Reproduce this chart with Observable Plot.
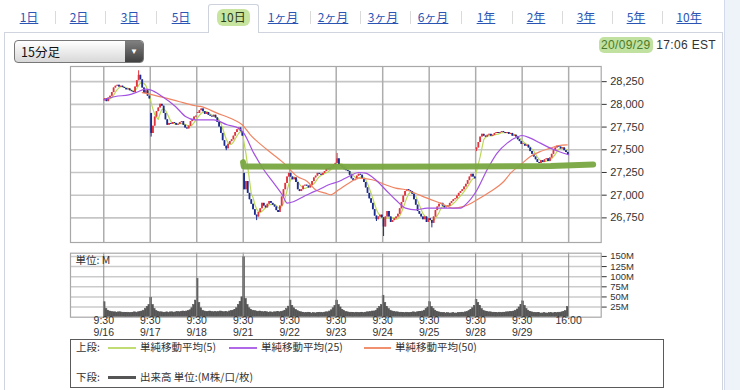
<!DOCTYPE html>
<html><head><meta charset="utf-8">
<script src="https://cdn.jsdelivr.net/npm/d3@7"></script>
<script src="https://cdn.jsdelivr.net/npm/@observablehq/plot@0.6"></script>
<style>
body{margin:0;width:740px;height:390px;overflow:hidden;position:relative;background:#fff;font-family:"Liberation Sans","Noto Sans CJK JP",sans-serif;}
.abs{position:absolute;}
.tab{position:absolute;top:9px;font-size:12px;color:#2a55b5;text-decoration:underline;transform:translateX(-50%);font-family:"Noto Sans CJK JP",sans-serif;line-height:15px;white-space:nowrap}
.sep{position:absolute;top:11px;width:1px;height:13px;background:#dadada}
.lg{position:absolute;font-size:10.5px;color:#333;font-family:"Noto Sans CJK JP",sans-serif;line-height:12px;white-space:nowrap}
.ll{position:absolute;height:2px}
</style></head>
<body>
<div class="abs" style="left:724px;top:0;width:16px;height:390px;background:#eef3fa;border-left:1px solid #d3dbea"></div>
<div class="abs" style="left:4px;top:32px;width:719px;height:370px;border:1px solid #cfd4df;box-sizing:border-box"></div>
<div id="tabs"></div>
<div class="abs" style="left:14px;top:40px;width:130px;height:23px;border:1px solid #777;border-radius:4px;box-sizing:border-box;background:linear-gradient(#ffffff,#d8d8d8);overflow:hidden">
  <div class="abs" style="left:6px;top:0;line-height:21px;font-size:12.5px;color:#111;font-family:'Noto Sans CJK JP',sans-serif">15分足</div>
  <div class="abs" style="right:0;top:0;width:18px;height:21px;background:linear-gradient(#808080,#404040);color:#fff;font-size:8px;line-height:21px;text-align:center">▼</div>
</div>
<div class="abs" style="left:599px;top:38px;font-size:12px;color:#333;letter-spacing:0.35px;white-space:nowrap"><span style="background:rgba(150,205,95,0.6);border-radius:5px;padding:1px 2px;color:#4d7a2a">20/09/29</span> 17:06 EST</div>
<div id="main" class="abs" style="left:60px;top:56px"></div>
<div id="vol" class="abs" style="left:60px;top:245px"></div>
<div class="abs" style="left:70px;top:339px;width:594px;height:49px;border:1.5px solid #5a5a5a;box-sizing:border-box"></div>
<div class="lg" style="left:76px;top:341px">上段:</div>
<div class="ll" style="left:108px;top:347px;width:28px;background:#c2dc74"></div>
<div class="lg" style="left:140px;top:341px">単純移動平均(5)</div>
<div class="ll" style="left:229px;top:347px;width:28px;background:#b068e8"></div>
<div class="lg" style="left:261px;top:341px">単純移動平均(25)</div>
<div class="ll" style="left:364px;top:347px;width:27px;background:#f0906e"></div>
<div class="lg" style="left:395px;top:341px">単純移動平均(50)</div>
<div class="lg" style="left:76px;top:371px">下段:</div>
<div class="ll" style="left:108px;top:376px;width:28px;height:3px;background:#555"></div>
<div class="lg" style="left:140px;top:371px">出来高 単位:(M株/口/枚)</div>
<script>
// ---- tabs ----
const tabLabels = ["1日","2日","3日","5日","10日","1ヶ月","2ヶ月","3ヶ月","6ヶ月","1年","2年","3年","5年","10年"];
const tabCenters = [29,79,130,181,233,283,333,383,433,486,536,586,636,689];
const sepX = [55,105,156,310,360,410,461,512,562,612,662];
const selectedTab = 4;

// ---- price data (15-minute bars, 26 per session) ----
const days = ["9/16","9/17","9/18","9/21","9/22","9/23","9/24","9/25","9/28","9/29"];
const dayOpens = [28040, 27900, 27900, 27240, 27240, 27350, 26750, 26740, 27500, 27560];
const close0916 = [28060,28030,28070,28090,28130,28180,28200,28210,28190,28200,28185,28175,28160,28170,28150,28140,28130,28190,28260,28320,28270,28180,28120,28150,28090,28060];
const close0917 = [27680,27760,27860,27920,27960,28000,27980,27900,27830,27770,27790,27780,27800,27790,27770,27780,27800,27810,27770,27740,27730,27760,27810,27830,27860,27870];
const close0918 = [27900,27930,27950,27920,27890,27910,27880,27870,27860,27880,27850,27800,27750,27680,27600,27540,27510,27560,27590,27610,27650,27690,27720,27740,27700,27650];
const close0921 = [27060,27150,27020,26950,26900,26840,26780,26760,26810,26850,26910,26880,26860,26900,26930,26910,26890,26870,26830,26810,26880,26980,27060,27130,27200,27240];
const close0922 = [27200,27170,27190,27140,27060,27040,27060,27100,27110,27100,27080,27110,27150,27190,27210,27240,27230,27220,27240,27260,27290,27280,27300,27310,27330,27350];
const close0923 = [27400,27330,27320,27300,27280,27270,27260,27220,27180,27160,27170,27210,27230,27220,27180,27140,27080,27020,26960,26910,26840,26770,26730,26760,26780,26750];
const close0924 = [26650,26760,26820,26760,26700,26720,26740,26760,26790,26850,26920,26990,27040,27060,27050,27040,27010,26950,26890,26820,26790,26760,26730,26760,26700,26740];
const close0925 = [26720,26690,26760,26830,26870,26900,26910,26880,26860,26870,26880,26910,26930,26950,26960,26990,27020,27040,27060,27090,27120,27160,27200,27230,27200,27180];
const close0928 = [27520,27580,27640,27670,27650,27640,27660,27670,27650,27660,27680,27690,27680,27690,27700,27690,27680,27690,27670,27680,27650,27660,27640,27610,27590,27560];
const close0929 = [27560,27540,27550,27520,27480,27450,27420,27390,27360,27350,27380,27360,27390,27400,27370,27410,27450,27490,27520,27540,27530,27510,27520,27490,27470,27440];
// visible wick extremes (bar index, price)
const spikeBars   = [19, 26, 68, 85, 130, 152, 156, 183, 208];
const spikeValues = [28370, 27640, 27490, 26720, 27460, 26710, 26545, 26640, 27480];

// ---- moving averages (bar position, price) ----
const ma25T = [0,6.5,14,19.6,23.3,26.1,32.7,40.1,45.7,51.3,61.5,69,75.5,78.3,83.9,89.5,95.1,99.8,102.6,106.3,111.9,115.6,120.2,125.8,131.4,137,142.6,146.4,152,157.6,163.2,168.8,174.4,180.9,190.2,199.5,203.2,208.8,214.4,220,225.6,231.2,234,238.6,244.2,249.8,254.5,260];
const ma25V = [28050,28087,28105,28142,28167,28160,28087,27977,27867,27830,27830,27775,27738,27683,27463,27280,27132,27005,26912,26930,26986,27022,27060,27115,27151,27206,27250,27242,27170,27060,26950,26857,26839,26857,26857,26857,26912,27060,27280,27463,27573,27640,27657,27628,27573,27518,27481,27445];
const ma50T = [21.5,32.7,41.9,51.3,54.1,63.4,72.7,77.4,82,91.4,100.7,108.2,113.8,118.4,124,126.8,131.4,137,142.6,150.1,157.6,163.2,168.8,171.6,180.9,188.3,195.7,201.3,208.8,216.3,223.7,227.5,233.1,238.6,244.2,249.8,254.5,259.2];
const ma50V = [28130,28080,28032,27985,27977,27903,27830,27775,27665,27500,27353,27206,27151,27060,27022,27005,27060,27132,27187,27170,27115,27077,27060,27041,26967,26912,26857,26876,26950,27041,27151,27242,27335,27426,27481,27518,27547,27555];

// ---- hand-drawn highlight line (bar position, price) ----
const markT = [77.9, 78.3, 140, 200, 250, 273.7];
const markV = [27364, 27316, 27312, 27316, 27322, 27338];

// ---- volume (M) ----
const vol0916 = [37,20,16,14,13,12,12,11,12,12,11,11,10,11,10,10,11,12,11,12,13,14,16,20,25,30];
const vol0917 = [48,30,20,15,13,12,12,11,11,12,11,12,12,11,12,13,12,13,14,13,14,15,17,22,30,41];
const vol0918 = [95,35,22,16,14,13,13,14,13,12,13,12,13,14,13,12,13,12,14,15,16,18,22,30,38,49];
const vol0921 = [148,45,30,22,18,16,15,14,13,14,13,12,13,12,11,12,11,12,12,13,12,13,14,16,20,26];
const vol0922 = [41,28,22,18,15,13,12,11,10,10,11,10,9,10,9,10,10,11,10,11,12,12,14,17,22,28];
const vol0923 = [41,30,24,18,15,13,12,11,11,10,10,11,10,10,11,10,11,12,12,13,14,14,16,20,25,30];
const vol0924 = [53,35,25,20,16,14,13,12,12,11,11,10,10,11,10,10,11,12,11,12,13,13,14,16,20,24];
const vol0925 = [37,25,20,16,13,12,11,10,10,9,10,9,9,10,9,9,10,10,11,11,12,13,15,18,22,28];
const vol0928 = [43,35,28,20,16,14,13,12,12,11,11,10,10,11,10,11,11,12,12,13,13,14,16,19,24,30];
const vol0929 = [39,28,20,16,13,12,11,10,10,10,9,9,10,9,9,10,10,9,10,10,11,11,12,13,15,25];

// ---- axes ----
const priceTicks = [26750,27000,27250,27500,27750,28000,28250];
const volTicks = [25,50,75,100,125,150];
const timeLabels = ["9:30","9:30","9:30","9:30","9:30","9:30","9:30","9:30","9:30","9:30","16:00"];
const dateLabels = ["9/16","9/17","9/18","9/21","9/22","9/23","9/24","9/25","9/28","9/29",""];
const unitLabel = "単位: M";

// ---- build tabs ----
const tabsEl = document.getElementById("tabs");
tabLabels.forEach((t, i) => {
  if (i === selectedTab) {
    const box = document.createElement("div");
    box.className = "abs";
    box.style.cssText = "left:208px;top:4px;width:51px;height:29px;border:1px solid #cdd2dc;border-bottom:none;background:#fff;border-radius:3px 3px 0 0;box-sizing:border-box";
    tabsEl.appendChild(box);
    const hl = document.createElement("div");
    hl.className = "abs";
    hl.style.cssText = `left:${tabCenters[i]-16}px;top:9px;width:33px;height:17px;background:#c8e5a0;border-radius:6px`;
    tabsEl.appendChild(hl);
  }
  const el = document.createElement("div");
  el.className = "tab";
  el.textContent = t;
  el.style.left = tabCenters[i] + "px";
  if (i === selectedTab) { el.style.color = "#2b3b1a"; el.style.textDecoration = "none"; }
  tabsEl.appendChild(el);
});
sepX.forEach(x => {
  const s = document.createElement("div");
  s.className = "sep"; s.style.left = x + "px";
  tabsEl.appendChild(s);
});

// ---- build bars ----
const dayCloses = [close0916,close0917,close0918,close0921,close0922,close0923,close0924,close0925,close0928,close0929];
const dayVols = [vol0916,vol0917,vol0918,vol0921,vol0922,vol0923,vol0924,vol0925,vol0928,vol0929];
const bars = [];
let prev = null;
dayCloses.forEach((arr, d) => arr.forEach((c, j) => {
  const i = d * 26 + j;
  const open = j === 0 ? dayOpens[d] : prev;
  let hi = Math.max(open, c), lo = Math.min(open, c);
  const k = spikeBars.indexOf(i);
  if (k >= 0) { hi = Math.max(hi, spikeValues[k]); lo = Math.min(lo, spikeValues[k]); }
  const bodyEnd = Math.abs(c - open) < 10 ? open + 10 : c;
  bars.push({t: i + 0.5, open, close: c, bodyEnd, high: hi, low: lo, up: c >= open});
  prev = c;
}));
const volBars = [];
dayVols.forEach((arr, d) => arr.forEach((v, j) => {
  const i = d * 26 + j;
  volBars.push({x1: i, x2: i + 1, y1: 0, y2: v});
}));
const dayLineT = d3.range(11).map(d => d * 26);
const ma25 = ma25T.map((t, i) => ({t, v: ma25V[i]}));
const ma50 = ma50T.map((t, i) => ({t, v: ma50V[i]}));
const mark = markT.map((t, i) => ({t, v: markV[i]}));
const xLabels = dayLineT.map((t, i) => ({t, time: timeLabels[i], date: dateLabels[i]}));

const xDomain = [-18.6, 278.2];
const RED = "#e2343c", BLUE = "#1c2b8e";
const baseStyle = {background: "transparent", fontFamily: "'Liberation Sans', Arial, sans-serif", fontSize: "11px", color: "#333", overflow: "visible"};

const main = Plot.plot({
  width: 620, height: 196,
  marginLeft: 10, marginTop: 10, marginRight: 79.3, marginBottom: 10,
  x: {domain: xDomain, axis: null},
  y: {domain: [26479, 28417], axis: null},
  style: baseStyle,
  marks: [
    Plot.ruleY(priceTicks, {stroke: "#c6c6c6", strokeWidth: 1.6}),
    Plot.ruleX(dayLineT, {stroke: "#adadad", strokeWidth: 1.5}),
    Plot.frame({stroke: "#a8a8a8", strokeWidth: 1.2}),
    Plot.line(bars, Plot.windowY({k: 5, anchor: "end", reduce: "mean"}, {x: "t", y: "close", stroke: "#bcd85a", strokeWidth: 1.2})),
    Plot.ruleX(bars, {x: "t", y1: "low", y2: "high", stroke: d => d.up ? RED : BLUE, strokeWidth: 1}),
    Plot.ruleX(bars, {x: "t", y1: "open", y2: "bodyEnd", stroke: d => d.up ? RED : BLUE, strokeWidth: 1.8}),
    Plot.line(ma50, {x: "t", y: "v", stroke: "#f08462", strokeWidth: 1.2, curve: "monotone-x"}),
    Plot.line(ma25, {x: "t", y: "v", stroke: "#a452e2", strokeWidth: 1.2, curve: "monotone-x"}),
    Plot.line(mark, {x: "t", y: "v", stroke: "#78a640", strokeWidth: 6, strokeOpacity: 0.95, strokeLinecap: "round", strokeLinejoin: "round"}),
    Plot.axisY(priceTicks, {anchor: "right", tickSize: 5, tickPadding: 4, tickFormat: d3.format(","), fontSize: 11})
  ]
});
document.getElementById("main").appendChild(main);

const vol = Plot.plot({
  width: 620, height: 100,
  marginLeft: 10, marginTop: 7.7, marginRight: 79.3, marginBottom: 28.3,
  x: {domain: xDomain, axis: null},
  y: {domain: [0, 158], axis: null},
  style: baseStyle,
  marks: [
    Plot.ruleY(volTicks, {stroke: "#cbcbcb", strokeWidth: 1.5}),
    Plot.rect(volBars, {x1: "x1", x2: "x2", y1: "y1", y2: "y2", fill: "#565656", stroke: "#565656", strokeWidth: 0.6}),
    Plot.ruleX(dayLineT, {stroke: "#8c8c8c", strokeWidth: 1}),
    Plot.frame({stroke: "#a8a8a8", strokeWidth: 1.2}),
    Plot.axisY(volTicks, {anchor: "right", tickSize: 5, tickPadding: 4, tickFormat: d => d + "M", fontSize: 9.5}),
    Plot.text([unitLabel], {frameAnchor: "top-left", dx: 5, dy: 3, fontSize: 10.5, fill: "#333", fontFamily: "'Noto Sans CJK JP', sans-serif"}),
    Plot.text(xLabels, {x: "t", text: "time", frameAnchor: "bottom", dy: 6.5, fontSize: 10.5, fill: "#333"}),
    Plot.text(xLabels, {x: "t", text: "date", frameAnchor: "bottom", dy: 18.5, fontSize: 10.5, fill: "#333"})
  ]
});
document.getElementById("vol").appendChild(vol);
</script>
</body></html>
